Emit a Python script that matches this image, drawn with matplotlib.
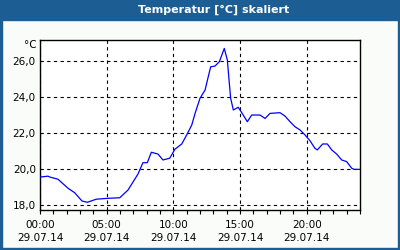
import matplotlib
matplotlib.use("Agg")
import matplotlib.pyplot as plt
from matplotlib.patches import Rectangle

# Temperaturverlauf 29.07.14 (Stunden, °C)
hours = [0.0, 0.6, 0.75, 1.35, 2.1, 2.6, 3.15, 3.55, 4.22, 5.1, 5.98,
         6.6, 7.35, 7.72, 8.05, 8.35, 8.85, 9.22, 9.73, 10.12, 10.63,
         11.0, 11.38, 11.63, 12.0, 12.38, 12.62, 12.8, 13.12, 13.45,
         13.82, 14.05, 14.2, 14.3, 14.5, 14.87, 15.13, 15.55, 15.88,
         16.5, 16.88, 17.25, 18.0, 18.38, 18.75, 19.12, 19.5, 19.88,
         20.25, 20.62, 20.8, 21.2, 21.55, 21.88, 22.25, 22.63, 23.0,
         23.38, 23.55, 24.0]
temps = [19.55, 19.6, 19.55, 19.43, 18.93, 18.68, 18.22, 18.15, 18.32,
         18.37, 18.4, 18.83, 19.72, 20.35, 20.35, 20.93, 20.83, 20.5,
         20.6, 21.1, 21.39, 21.89, 22.44, 23.09, 23.93, 24.39, 25.13,
         25.68, 25.72, 25.96, 26.7, 26.06, 24.76, 23.93, 23.28, 23.43,
         23.13, 22.63, 23.0, 23.0, 22.81, 23.09, 23.13, 22.94, 22.63,
         22.35, 22.17, 21.89, 21.57, 21.15, 21.06, 21.39, 21.39, 21.06,
         20.83, 20.5, 20.41, 20.04, 19.98, 19.98]

x_ticks = [0, 5, 10, 15, 20]
x_labels = ["00:00\n29.07.14", "05:00\n29.07.14", "10:00\n29.07.14",
            "15:00\n29.07.14", "20:00\n29.07.14"]
y_ticks = [18, 20, 22, 24, 26]
y_labels = ["18,0", "20,0", "22,0", "24,0", "26,0"]

blau = "#1c5e94"

fig = plt.figure(figsize=(4, 2.5), dpi=100, facecolor="#fafcfa")

# Titelleiste und Rahmen
fig.patches.append(Rectangle((0, 1 - 20 / 250), 1, 20 / 250, transform=fig.transFigure,
                             color=blau, zorder=0))
fig.patches.append(Rectangle((0, 0), 2 / 400, 1, transform=fig.transFigure, color=blau))
fig.patches.append(Rectangle((1 - 2 / 400, 0), 2 / 400, 1, transform=fig.transFigure, color=blau))
fig.patches.append(Rectangle((0, 0), 1, 2 / 250, transform=fig.transFigure, color=blau))
fig.text(214 / 400, 1 - 10 / 250, "Temperatur [°C] skaliert", color="white",
         fontsize=8, fontweight="bold", ha="center", va="center")

ax = fig.add_axes([40 / 400, 40 / 250, 320 / 400, 170 / 250])
ax.set_facecolor("white")
ax.plot(hours, temps, color="#0000ff", lw=0.9, zorder=3)

ax.set_xlim(0, 24)
ax.set_ylim(17.72, 27.17)
ax.set_xticks(x_ticks)
ax.set_xticklabels(x_labels, fontsize=7.5, linespacing=1.35)
ax.set_xticks(range(0, 25), minor=True)
ax.set_yticks(y_ticks)
ax.set_yticklabels(y_labels, fontsize=7.5)
ax.tick_params(axis="x", which="both", direction="out", length=3, width=0.8, pad=4)
ax.tick_params(axis="y", length=0, pad=3)

ax.grid(True, color="black", lw=0.8, linestyle=(0, (3, 3)))
for s in ax.spines.values():
    s.set_linewidth(1)
    s.set_color("black")

fig.text(37 / 400, 1 - 45 / 250, "°C", fontsize=7.5, ha="right", va="center")

fig.savefig("out.png", dpi=100, facecolor=fig.get_facecolor())
